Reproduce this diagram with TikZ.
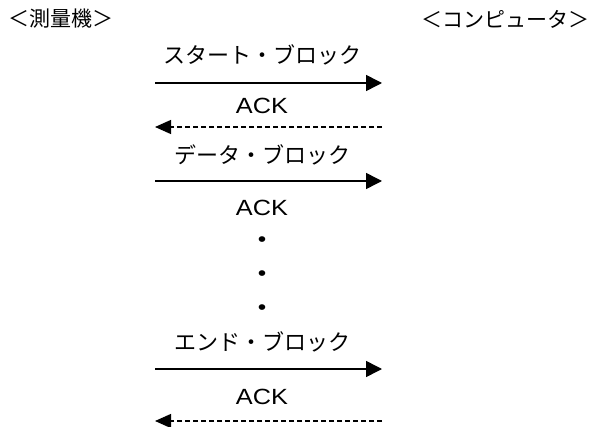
\documentclass[tikz,border=0pt]{standalone}
\usepackage{fontspec}
\setmainfont{Noto Sans CJK JP}
\newfontfamily\ackfont{Liberation Sans}[FakeStretch=1.15]
\usetikzlibrary{arrows.meta}
\tikzset{
  msg/.style = {inner sep=0pt, font=\fontsize{22}{24}\selectfont},
  ack/.style = {inner sep=0pt, font=\ackfont\fontsize{22}{24}\selectfont},
  dotmark/.style = {inner sep=0pt, font=\ackfont\fontsize{21}{24}\selectfont},
  head/.style = {inner sep=0pt, font=\fontsize{21}{24}\selectfont},
  send/.style = {-{Triangle[length=16pt, width=16pt]}, line width=1.5pt},
  reply/.style = {-{Triangle[length=16pt, width=14pt]}, line width=1.3pt, dash pattern=on 5pt off 3pt}
}

\begin{document}
\begin{tikzpicture}[x=1pt, y=-1pt]
\useasboundingbox (0,0) rectangle (593,427);

% Headers
\node[head, anchor=west] (meter) at (8,19) {＜測量機＞};
\node[head, anchor=east] (pc) at (590,19) {＜コンピュータ＞};

% Labels
\node[msg] (start) at (262,55) {スタート・ブロック};
\node[ack] (ack1) at (262,106) {ACK};
\node[msg] (data) at (262,155) {データ・ブロック};
\node[ack] (ack2) at (262,208) {ACK};
\node[dotmark] (dot1) at (262,242) {•};
\node[dotmark] (dot2) at (262,276) {•};
\node[dotmark] (dot3) at (262,310) {•};
\node[msg] (end) at (262,342) {エンド・ブロック};
\node[ack] (ack3) at (262,397) {ACK};

% Arrow ends
\coordinate (s1l) at (155,83);  \coordinate (s1r) at (382,83);
\coordinate (a1l) at (155,127); \coordinate (a1r) at (382,127);
\coordinate (s2l) at (155,181); \coordinate (s2r) at (382,181);
\coordinate (s3l) at (155,369); \coordinate (s3r) at (382,369);
\coordinate (a3l) at (155,421); \coordinate (a3r) at (382,421);

% Arrows
\draw[send] (s1l) -- (s1r);
\draw[reply] (a1r) -- (a1l);
\draw[send] (s2l) -- (s2r);
\draw[send] (s3l) -- (s3r);
\draw[reply] (a3r) -- (a3l);

\end{tikzpicture}
\end{document}
